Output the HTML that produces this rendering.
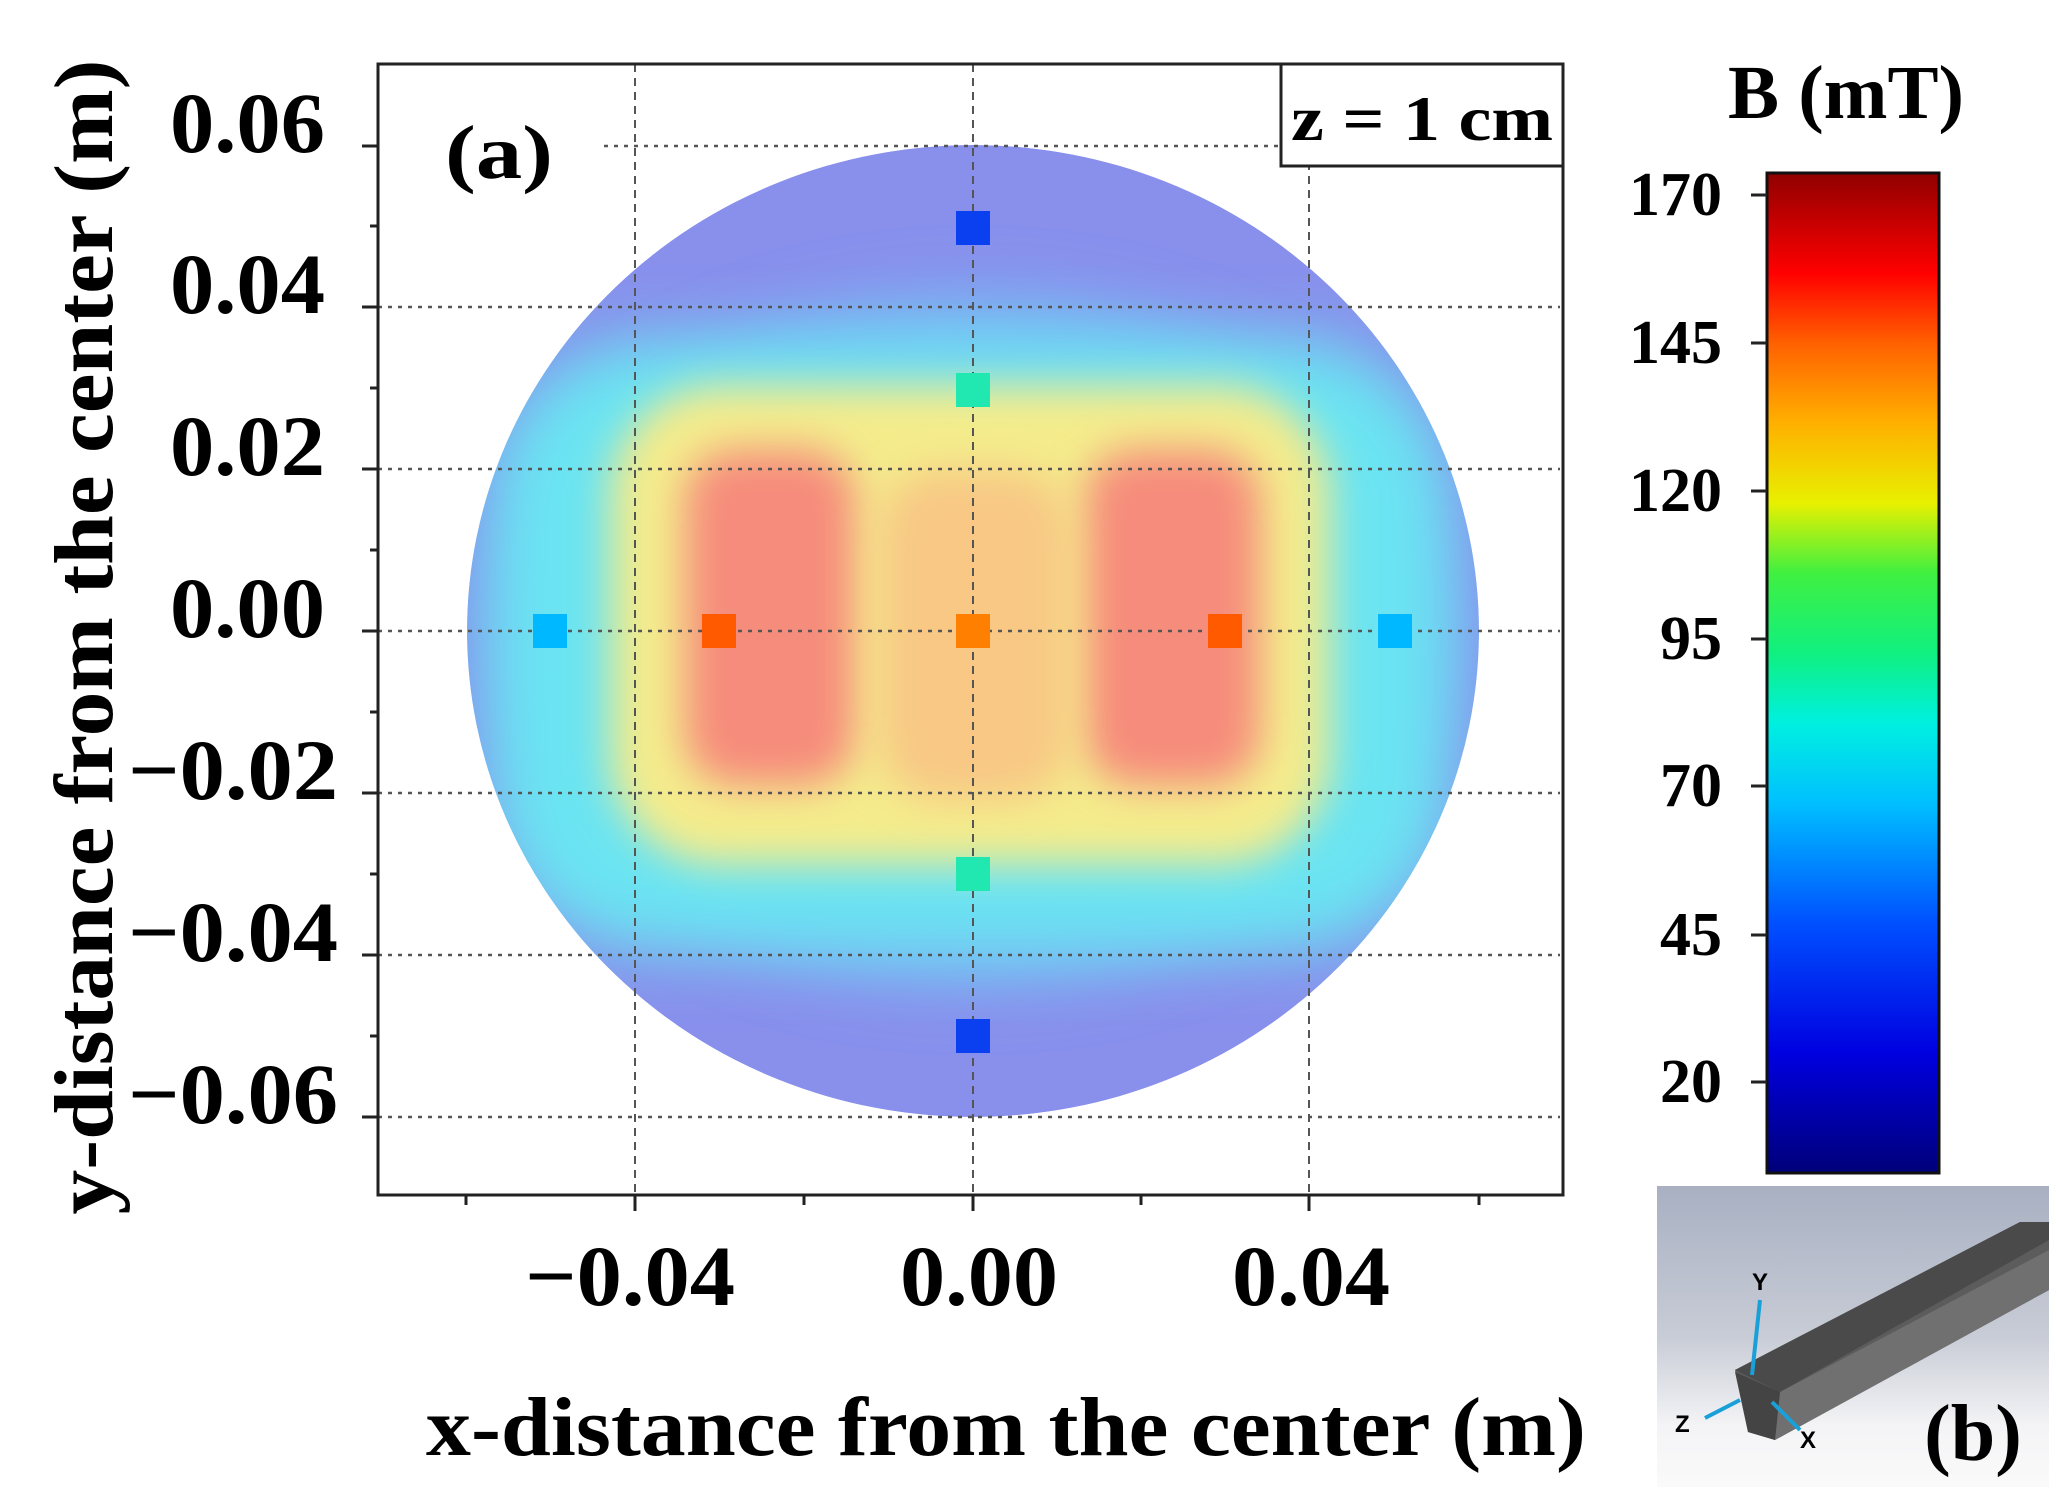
<!DOCTYPE html>
<html><head><meta charset="utf-8"><style>
html,body{margin:0;padding:0;background:#fff;}
svg{display:block;}
text{font-family:"Liberation Serif",serif;font-weight:bold;fill:#000;}
</style></head><body>
<svg width="2056" height="1510" viewBox="0 0 2056 1510" xmlns="http://www.w3.org/2000/svg">
<defs>
<clipPath id="circ"><ellipse cx="973" cy="631" rx="506" ry="486"/></clipPath>
<filter id="b1" x="-30%" y="-30%" width="160%" height="160%"><feGaussianBlur stdDeviation="32"/></filter>
<filter id="b2" x="-30%" y="-30%" width="160%" height="160%"><feGaussianBlur stdDeviation="20"/></filter>
<linearGradient id="cb" x1="0" y1="1" x2="0" y2="0">
<stop offset="0" stop-color="#00007a"/>
<stop offset="0.12" stop-color="#0000e0"/>
<stop offset="0.25" stop-color="#0050ff"/>
<stop offset="0.37" stop-color="#00c0ff"/>
<stop offset="0.45" stop-color="#00f0e0"/>
<stop offset="0.52" stop-color="#10f080"/>
<stop offset="0.6" stop-color="#40f040"/>
<stop offset="0.67" stop-color="#e8f000"/>
<stop offset="0.75" stop-color="#ffb000"/>
<stop offset="0.83" stop-color="#ff6000"/>
<stop offset="0.9" stop-color="#ff0000"/>
<stop offset="1" stop-color="#900000"/>
</linearGradient>
<linearGradient id="ib" x1="0" y1="0" x2="0" y2="1">
<stop offset="0" stop-color="#a8b0c2"/>
<stop offset="0.5" stop-color="#c8ccd6"/>
<stop offset="0.8" stop-color="#f4f4f6"/>
<stop offset="1" stop-color="#fafafa"/>
</linearGradient>
</defs>

<g clip-path="url(#circ)">
<ellipse cx="973" cy="631" rx="506" ry="486" fill="#8890ec"/>
<ellipse cx="973" cy="640" rx="480" ry="340" fill="#78b8f4" filter="url(#b1)"/>
<rect x="490" y="340" width="960" height="610" rx="160" fill="#6ae4f2" filter="url(#b1)"/>
<rect x="610" y="385" width="720" height="480" rx="110" fill="#f4ec8c" filter="url(#b2)"/>
<rect x="685" y="450" width="170" height="335" rx="50" fill="#f68c7c" filter="url(#b2)"/>
<rect x="1085" y="450" width="175" height="335" rx="50" fill="#f68c7c" filter="url(#b2)"/>
<rect x="880" y="470" width="190" height="330" rx="60" fill="#f8c884" filter="url(#b2)"/>
</g>

<g stroke="#555" stroke-width="2.5" stroke-dasharray="4,6" fill="none">
<line x1="604" y1="146" x2="1560" y2="146"/>
<line x1="378" y1="307" x2="1560" y2="307"/>
<line x1="378" y1="469" x2="1560" y2="469"/>
<line x1="378" y1="631" x2="1560" y2="631"/>
<line x1="378" y1="793" x2="1560" y2="793"/>
<line x1="378" y1="955" x2="1560" y2="955"/>
<line x1="378" y1="1117" x2="1560" y2="1117"/>
</g>
<g stroke="#555" stroke-width="2" stroke-dasharray="8,6" fill="none">
<line x1="635" y1="64" x2="635" y2="1195"/>
<line x1="973" y1="64" x2="973" y2="1195"/>
<line x1="1309" y1="64" x2="1309" y2="1195"/>
</g>

<g>
<rect x="956" y="211" width="34" height="34" fill="#0a40f0"/>
<rect x="956" y="373" width="34" height="34" fill="#20e8b0"/>
<rect x="956" y="614" width="34" height="34" fill="#ff8000"/>
<rect x="956" y="857" width="34" height="34" fill="#20e8b0"/>
<rect x="956" y="1019" width="34" height="34" fill="#0a40f0"/>
<rect x="702" y="614" width="34" height="34" fill="#ff5a00"/>
<rect x="1208" y="614" width="34" height="34" fill="#ff5a00"/>
<rect x="533" y="614" width="34" height="34" fill="#00b8ff"/>
<rect x="1378" y="614" width="34" height="34" fill="#00b8ff"/>
</g>

<rect x="378" y="64" width="1185" height="1131" fill="none" stroke="#222" stroke-width="3"/>
<g stroke="#222" stroke-width="3">
<line x1="362" y1="146" x2="378" y2="146"/><line x1="362" y1="307" x2="378" y2="307"/>
<line x1="362" y1="469" x2="378" y2="469"/><line x1="362" y1="631" x2="378" y2="631"/>
<line x1="362" y1="793" x2="378" y2="793"/><line x1="362" y1="955" x2="378" y2="955"/>
<line x1="362" y1="1117" x2="378" y2="1117"/>
<line x1="370" y1="226" x2="378" y2="226"/><line x1="370" y1="388" x2="378" y2="388"/>
<line x1="370" y1="550" x2="378" y2="550"/><line x1="370" y1="712" x2="378" y2="712"/>
<line x1="370" y1="874" x2="378" y2="874"/><line x1="370" y1="1036" x2="378" y2="1036"/>
<line x1="635" y1="1195" x2="635" y2="1211"/><line x1="973" y1="1195" x2="973" y2="1211"/>
<line x1="1309" y1="1195" x2="1309" y2="1211"/>
<line x1="466" y1="1195" x2="466" y2="1205"/><line x1="804" y1="1195" x2="804" y2="1205"/>
<line x1="1141" y1="1195" x2="1141" y2="1205"/><line x1="1479" y1="1195" x2="1479" y2="1205"/>
</g>

<rect x="1281" y="64" width="282" height="102" fill="#fff" stroke="#222" stroke-width="3"/>
<text x="1422" y="140" font-size="64" text-anchor="middle" textLength="262" lengthAdjust="spacingAndGlyphs">z = 1 cm</text>
<text x="445" y="178" font-size="76" textLength="108" lengthAdjust="spacingAndGlyphs">(a)</text>

<g font-size="86" text-anchor="end">
<text x="325" y="152" textLength="155" lengthAdjust="spacingAndGlyphs">0.06</text>
<text x="325" y="313" textLength="155" lengthAdjust="spacingAndGlyphs">0.04</text>
<text x="325" y="475" textLength="155" lengthAdjust="spacingAndGlyphs">0.02</text>
<text x="325" y="637" textLength="155" lengthAdjust="spacingAndGlyphs">0.00</text>
<text x="338" y="799" textLength="210" lengthAdjust="spacingAndGlyphs">−0.02</text>
<text x="338" y="961" textLength="210" lengthAdjust="spacingAndGlyphs">−0.04</text>
<text x="338" y="1123" textLength="210" lengthAdjust="spacingAndGlyphs">−0.06</text>
</g>
<g font-size="86" text-anchor="middle">
<text x="630" y="1305" textLength="210" lengthAdjust="spacingAndGlyphs">−0.04</text>
<text x="979" y="1305" textLength="158" lengthAdjust="spacingAndGlyphs">0.00</text>
<text x="1311" y="1305" textLength="158" lengthAdjust="spacingAndGlyphs">0.04</text>
</g>
<text x="1006" y="1455" font-size="84" text-anchor="middle" textLength="1160" lengthAdjust="spacingAndGlyphs">x-distance from the center (m)</text>
<text transform="translate(112,637) rotate(-90)" font-size="84" text-anchor="middle" textLength="1155" lengthAdjust="spacingAndGlyphs">y-distance from the center (m)</text>

<rect x="1767" y="173" width="172" height="1000" fill="url(#cb)" stroke="#111" stroke-width="3"/>
<g stroke="#222" stroke-width="3">
<line x1="1751" y1="195" x2="1767" y2="195"/><line x1="1751" y1="343" x2="1767" y2="343"/>
<line x1="1751" y1="491" x2="1767" y2="491"/><line x1="1751" y1="639" x2="1767" y2="639"/>
<line x1="1751" y1="786" x2="1767" y2="786"/><line x1="1751" y1="935" x2="1767" y2="935"/>
<line x1="1751" y1="1082" x2="1767" y2="1082"/>
</g>
<g font-size="62" text-anchor="end">
<text x="1722" y="215">170</text><text x="1722" y="363">145</text>
<text x="1722" y="511">120</text><text x="1722" y="659">95</text>
<text x="1722" y="806">70</text><text x="1722" y="955">45</text>
<text x="1722" y="1102">20</text>
</g>
<text x="1846" y="118" font-size="76" text-anchor="middle" textLength="236" lengthAdjust="spacingAndGlyphs">B (mT)</text>

<rect x="1657" y="1186" width="392" height="301" fill="url(#ib)"/>
<polygon points="1735,1370 2020,1222 2049,1222 2049,1290 1775,1440 1748,1432" fill="#5c5c5c"/>
<polygon points="1735,1370 2020,1222 2049,1222 2049,1240 1780,1392" fill="#4a4a4a"/>
<polygon points="1780,1392 2049,1250 2049,1290 1775,1440" fill="#707070"/>
<polygon points="1735,1372 1780,1392 1775,1440 1748,1432" fill="#444"/>
<g stroke="#1aa0d8" stroke-width="4" fill="#1aa0d8">
<line x1="1752" y1="1375" x2="1760" y2="1300"/>
<line x1="1740" y1="1400" x2="1705" y2="1418"/>
<line x1="1772" y1="1402" x2="1800" y2="1430"/>
</g>
<g font-size="24" font-weight="bold">
<text x="1752" y="1290" fill="#1aa0d8" style="font-family:'Liberation Sans',sans-serif">Y</text>
<text x="1675" y="1432" fill="#1aa0d8" style="font-family:'Liberation Sans',sans-serif">Z</text>
<text x="1800" y="1448" fill="#1aa0d8" style="font-family:'Liberation Sans',sans-serif">X</text>
</g>
<text x="1973" y="1460" font-size="80" text-anchor="middle">(b)</text>
</svg>
</body></html>
